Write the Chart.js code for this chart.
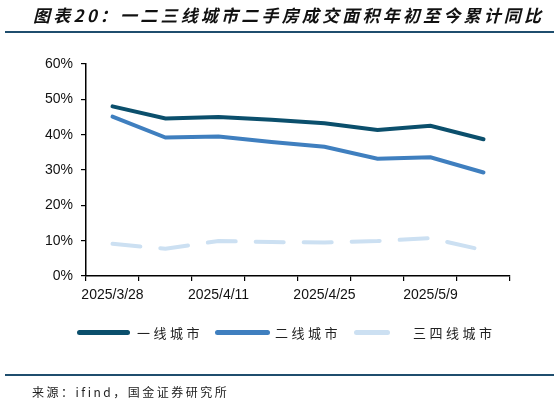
<!DOCTYPE html>
<html>
<head>
<meta charset="utf-8">
<script src="https://cdn.jsdelivr.net/npm/chart.js@4"></script>
<style>
  html, body { margin: 0; padding: 0; background: #fff; }
  #wrap { position: relative; width: 559px; height: 403px; overflow: hidden; }
  #chart { position: absolute; left: 0; top: 0; }
  .title { position: absolute; left: 33px; top: 2px; font: italic bold 17px "Noto Sans CJK SC"; letter-spacing: 3.2px; color: #111; white-space: nowrap; }
  .rule { position: absolute; left: 5px; width: 549px; height: 2px; background: #1f4e6e; }
  .source { position: absolute; left: 32px; top: 383px; font: 12px "Noto Sans CJK SC"; letter-spacing: 2.5px; color: #222; white-space: nowrap; }
  .leg { position: absolute; top: 324px; height: 16px; display: flex; align-items: center; font: 13px "Noto Sans CJK SC"; letter-spacing: 3.5px; color: #222; white-space: nowrap; }
  .leg span.ln { display: inline-block; height: 5px; border-radius: 3px; }
</style>
</head>
<body>
<div id="wrap">
  <canvas id="chart" width="559" height="403"></canvas>
  <div class="title">图表20：一二三线城市二手房成交面积年初至今累计同比</div>
  <div class="rule" style="top:31px"></div>
  <div id="legend"></div>
  <div class="rule" style="top:374px"></div>
  <div class="source">来源：ifind，国金证券研究所</div>
</div>
<script>
// Data definitions
const weekLabels = ['2025/3/28', '2025/4/4', '2025/4/11', '2025/4/18', '2025/4/25', '2025/5/2', '2025/5/9', '2025/5/16'];
const tier1 = [48.0, 44.6, 45.0, 44.2, 43.2, 41.3, 42.5, 38.7];
const tier2 = [45.1, 39.2, 39.5, 37.9, 36.6, 33.2, 33.6, 29.3];
const tier34 = [9.1, 7.7, 9.9, 9.6, 9.5, 9.9, 10.7, 7.3];
const seriesNames = ['一线城市', '二线城市', '三四线城市'];

const axisFont = { family: '"Liberation Sans", Arial, sans-serif', size: 14 };

const chart = new Chart(document.getElementById('chart').getContext('2d'), {
  type: 'line',
  data: {
    labels: weekLabels,
    datasets: [
      {
        label: seriesNames[0],
        data: tier1,
        borderColor: '#0b4f6c',
        borderWidth: 4,
        borderCapStyle: 'round',
        pointRadius: 0,
        tension: 0
      },
      {
        label: seriesNames[1],
        data: tier2,
        borderColor: '#3f7fbf',
        borderWidth: 4,
        borderCapStyle: 'round',
        pointRadius: 0,
        tension: 0
      },
      {
        label: seriesNames[2],
        data: tier34,
        borderColor: '#cce0f2',
        borderWidth: 4,
        borderCapStyle: 'round',
        borderDash: [28, 20],
        pointRadius: 0,
        tension: 0
      }
    ]
  },
  options: {
    responsive: false,
    animation: false,
    layout: { padding: { left: 0, top: 64, right: 49, bottom: 97 } },
    plugins: {
      legend: { display: false },
      tooltip: { enabled: false }
    },
    scales: {
      x: {
        offset: true,
        grid: { offset: true, drawOnChartArea: false, drawTicks: true, tickLength: 5, color: '#000', lineWidth: 1.2 },
        border: { color: '#000', width: 1.5 },
        ticks: {
          color: '#111',
          font: axisFont,
          padding: 6,
          maxRotation: 0,
          autoSkip: false,
          callback: function(value, index) {
            return index % 2 === 0 ? this.getLabelForValue(value) : '';
          }
        },
        afterFit: function(scale) { scale.height = 30; }
      },
      y: {
        min: 0,
        max: 60,
        grid: { drawOnChartArea: false, drawTicks: true, tickLength: 5, color: '#000', lineWidth: 1.2 },
        border: { color: '#000', width: 1.5 },
        ticks: {
          stepSize: 10,
          color: '#111',
          font: axisFont,
          padding: 8,
          callback: function(v) { return v + '%'; }
        },
        afterFit: function(scale) { scale.width = 86; }
      }
    }
  }
});

// Legend built from the chart's own datasets (Excel-style slots)
const legendSlots = [
  { left: 77, line: 53, gap: 7 },
  { left: 215, line: 55, gap: 5 },
  { left: 354, line: 36, gap: 23 }
];
const legendEl = document.getElementById('legend');
chart.data.datasets.forEach((ds, i) => {
  const slot = legendSlots[i];
  const item = document.createElement('div');
  item.className = 'leg';
  item.style.left = slot.left + 'px';
  item.innerHTML = '<span class="ln" style="width:' + slot.line + 'px;background:' + ds.borderColor +
    ';margin-right:' + slot.gap + 'px"></span><span>' + ds.label + '</span>';
  legendEl.appendChild(item);
});
</script>
</body>
</html>
